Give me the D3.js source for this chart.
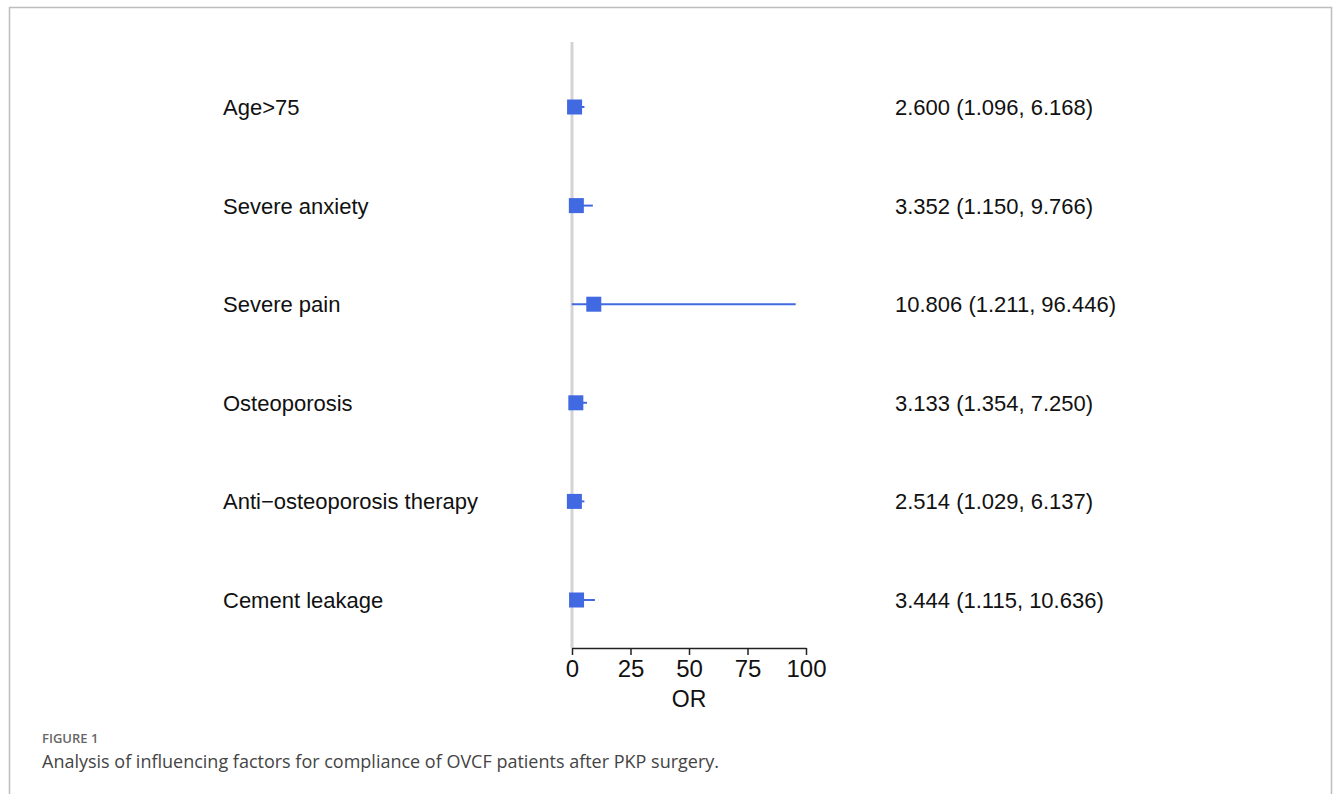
<!DOCTYPE html>
<html><head><meta charset="utf-8">
<script src="https://cdn.jsdelivr.net/npm/d3@7/dist/d3.min.js"></script>
<style>body{margin:0;background:#fff}svg{display:block}</style>
</head><body>
<svg id="c" width="1333" height="794"></svg>
<script>
const factors = ["Age>75","Severe anxiety","Severe pain","Osteoporosis","Anti\u2212osteoporosis therapy","Cement leakage"];
const orValues = [2.600, 3.352, 10.806, 3.133, 2.514, 3.444];
const lowerCI = [1.096, 1.150, 1.211, 1.354, 1.029, 1.115];
const upperCI = [6.168, 9.766, 96.446, 7.250, 6.137, 10.636];
const ciLabels = ["2.600 (1.096, 6.168)","3.352 (1.150, 9.766)","10.806 (1.211, 96.446)","3.133 (1.354, 7.250)","2.514 (1.029, 6.137)","3.444 (1.115, 10.636)"];
const xTicks = [0,25,50,75,100];

const svg = d3.select("#c");
const font = "'Liberation Sans', Arial, sans-serif";

// frame
svg.append("path").attr("d","M9.5,800 L9.5,7.5 L1331.5,7.5 L1331.5,800")
  .attr("fill","none").attr("stroke","#bdbdbd").attr("stroke-width",1.5);

const x = d3.scaleLinear().domain([0,100]).range([572,806]);
const y = d3.scalePoint().domain(factors).range([107,600]);

// reference line
svg.append("line").attr("x1",x(0)).attr("x2",x(0)).attr("y1",42).attr("y2",648)
  .attr("stroke","#d4d4d4").attr("stroke-width",3);

// axis
const ax = svg.append("g").attr("transform","translate(0,648)")
  .call(d3.axisBottom(x).tickValues(xTicks).tickSize(7).tickSizeOuter(0).tickPadding(5));
ax.select(".domain").attr("stroke","#222").attr("stroke-width",1.5);
ax.selectAll(".tick line").attr("stroke","#222").attr("stroke-width",1.5);
ax.selectAll(".tick text").attr("font-family",font).attr("font-size",24).attr("fill","#111");
svg.append("text").attr("x",x(50)).attr("y",707).attr("text-anchor","middle")
  .attr("font-family",font).attr("font-size",23).attr("fill","#111").text("OR");

// rows
const rows = svg.append("g").selectAll("g").data(factors).join("g");
rows.append("text").attr("x",223).attr("y",d=>y(d)+8).attr("font-family",font)
  .attr("font-size",22).attr("fill","#111").text(d=>d);
rows.append("text").attr("x",895).attr("y",d=>y(d)+8).attr("font-family",font)
  .attr("font-size",22).attr("fill","#111").text((d,i)=>ciLabels[i]);
rows.append("line").attr("x1",(d,i)=>x(lowerCI[i])-3).attr("x2",(d,i)=>x(upperCI[i])-2)
  .attr("y1",d=>y(d)).attr("y2",d=>y(d)).attr("stroke","#4169E1").attr("stroke-width",2);
rows.append("rect").attr("x",(d,i)=>x(orValues[i])-11).attr("y",d=>y(d)-7.5)
  .attr("width",15).attr("height",15).attr("fill","#4169E1");

// caption
svg.append("text").attr("x",42).attr("y",743).attr("font-family","'Open Sans', sans-serif")
  .attr("font-size",13).attr("font-weight",600).attr("fill","#666").text("FIGURE 1");
svg.append("text").attr("x",42).attr("y",768).attr("font-family","'Open Sans', sans-serif")
  .attr("font-size",17.5).attr("fill","#444").attr("textLength",677).attr("lengthAdjust","spacingAndGlyphs")
  .text("Analysis of influencing factors for compliance of OVCF patients after PKP surgery.");
</script>
</body></html>
